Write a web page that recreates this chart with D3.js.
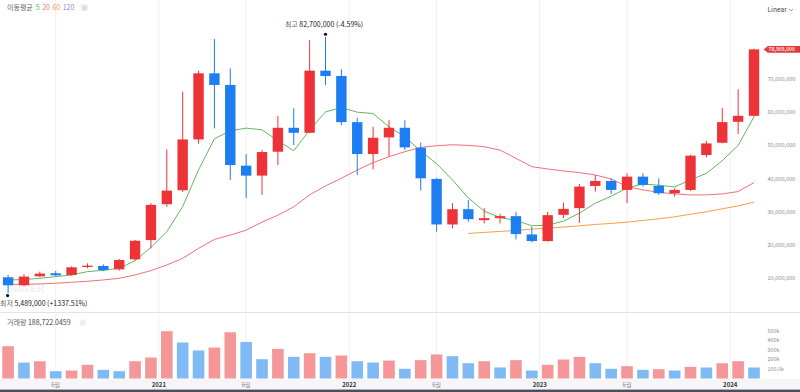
<!DOCTYPE html>
<html><head><meta charset="utf-8">
<script src="https://cdn.jsdelivr.net/npm/d3@7"></script>
<style>
html,body{margin:0;padding:0;background:#fff;}
svg{display:block;font-family:"Noto Sans CJK KR","Noto Sans",sans-serif;}
</style></head><body>
<svg id="chart" width="800" height="392"></svg>
<script>
// ---- data (prices in millions KRW, volume in thousands) ----
const months = ["2020-03","2020-04","2020-05","2020-06","2020-07","2020-08","2020-09","2020-10","2020-11","2020-12",
"2021-01","2021-02","2021-03","2021-04","2021-05","2021-06","2021-07","2021-08","2021-09","2021-10","2021-11","2021-12",
"2022-01","2022-02","2022-03","2022-04","2022-05","2022-06","2022-07","2022-08","2022-09","2022-10","2022-11","2022-12",
"2023-01","2023-02","2023-03","2023-04","2023-05","2023-06","2023-07","2023-08","2023-09","2023-10","2023-11","2023-12",
"2024-01","2024-02"];
const open = [10.3,7.9,10.6,11.5,11.0,13.4,13.7,12.7,15.7,21.5,
32.3,36.5,51.8,71.7,68.2,43.9,40.9,48.1,55.3,53.8,
72.5,70.9,57.0,47.4,52.4,55.3,49.3,39.9,26.2,30.8,
27.5,28.1,28.7,23.2,21.2,29.1,31.1,37.8,39.3,36.6,
40.6,37.8,35.6,36.6,47.1,50.8,57.1,58.9];
const high = [11.0,11.2,12.0,12.2,13.6,14.5,14.2,15.8,21.5,32.6,
48.8,66.2,72.5,82.0,73.2,47.4,48.6,58.8,61.2,81.7,
82.7,72.9,58.3,55.6,57.6,57.6,50.8,40.2,32.6,33.6,
31.1,29.4,30.0,25.6,30.0,32.8,38.4,41.1,40.0,41.6,
41.6,40.1,37.1,47.2,51.4,61.3,66.9,79.1];
const low = [5.489,7.6,10.3,10.6,10.8,13.0,12.2,12.3,15.3,19.0,
31.5,36.0,50.5,55.1,39.6,34.1,35.1,44.1,50.1,53.7,
68.2,56.1,41.1,42.8,46.6,48.6,36.4,24.0,25.0,27.0,
26.5,26.5,21.7,20.8,21.0,28.1,26.7,36.1,35.4,32.6,
37.6,35.1,34.6,36.3,46.4,50.6,53.4,58.7];
const close = [7.9,10.5,11.4,10.9,13.3,13.8,12.5,15.5,21.3,32.1,
36.4,51.8,71.7,68.2,44.1,40.9,48.0,55.3,53.8,72.5,
70.9,57.0,47.4,52.3,55.3,49.4,40.1,26.2,30.8,27.8,
28.1,28.7,23.3,21.2,29.0,30.9,37.6,39.3,36.6,40.6,
38.1,35.6,36.6,46.9,50.6,57.0,58.9,78.905];
const volumeK = [340,168,182,77,84,144,91,77,182,221,
498,379,295,326,487,385,203,312,228,266,
228,242,182,168,189,102,193,253,235,161,
182,116,193,84,144,200,228,161,102,130,
91,98,84,123,116,161,182,116];
const ma5 = [9.5,9.6,10.0,10.5,11.0,12.0,12.4,13.0,15.3,19.3,
24.0,31.6,42.6,52.0,54.4,55.2,54.7,51.4,48.4,54.6,
60.1,61.4,60.0,59.6,55.6,52.6,48.3,44.5,39.6,34.2,
30.2,28.3,27.4,25.8,26.0,27.2,29.6,32.6,34.7,37.2,
38.4,38.0,37.5,39.6,41.6,45.4,50.0,58.6];
const ma20 = [8.1,8.2,8.3,8.5,8.8,9.1,9.5,10.0,11.0,12.3,
14.0,16.0,19.0,21.7,23.0,24.5,26.9,29.0,31.5,35.1,
37.8,40.1,42.6,44.8,46.6,48.1,49.4,49.9,50.2,50.0,
49.6,48.6,46.1,43.6,42.9,42.3,41.8,41.1,39.9,37.6,
36.6,35.9,35.4,35.1,35.1,35.4,36.1,38.8];
const ma60 = [null,null,null,null,null,null,null,null,null,null,
null,null,null,null,null,null,null,null,null,null,
null,null,null,null,null,null,null,null,null,23.5,
23.8,24.1,24.4,24.8,25.1,25.4,25.8,26.2,26.5,26.9,
27.4,27.9,28.5,29.3,30.0,30.9,31.8,32.9];
const maPeriods = ["5","20","60","120"];
const priceTicks = [10,20,30,40,50,60,70];
const volumeTicks = [100,200,300,400,500];
const volumeTickLabels = ["100.0k","200k","300k","400k","500k"];
const xTickLabels = ["6월","2021","6월","2022","6월","2023","6월","2024"];
const xTickMonths = ["2020-06","2021-01","2021-06","2022-01","2022-06","2023-01","2023-06","2024-01"];
const lastVolumeText = "188,722.0459";

// ---- styles ----
const UP = "#ee3338", DOWN = "#1c7ef0";
const VUP = "#f59799", VDOWN = "#80baf4";
const maColors = ["#62b85a","#f07078","#f5a046","#a07ee0"];

const svg = d3.select("#chart");
const W = 800, H = 392;
const x = d3.scalePoint().domain(months).range([8.1, 754]);
const step = x.step();
const y = d3.scaleLinear().domain([0, 90]).range([311.5, 12.52]);
const yv = d3.scaleLinear().domain([0, 500]).range([378.5, 331]);
const fmt = d3.format(",.0f");

// bottom strip
svg.append("rect").attr("x",0).attr("y",379).attr("width",W).attr("height",11).attr("fill","#f6f6f8");
svg.append("rect").attr("x",0).attr("y",389.6).attr("width",W).attr("height",2.4).attr("fill","#4a4f5c");

// vertical gridlines
const tickPos = (m,i) => x(m) - (/^\d{4}$/.test(xTickLabels[i]) ? step/2 : 0);
svg.append("g").selectAll("line").data(xTickMonths).join("line")
  .attr("x1",(m,i)=>tickPos(m,i)).attr("x2",(m,i)=>tickPos(m,i))
  .attr("y1",0).attr("y2",378.5).attr("stroke","#f1f1f3").attr("stroke-width",1);

// panel separator
svg.append("line").attr("x1",0).attr("x2",W).attr("y1",312.5).attr("y2",312.5).attr("stroke","#e3e3e6");

// watermark
svg.append("text").attr("x",10).attr("y",292).text("NAVER")
  .attr("font-size",10).attr("font-weight",700).attr("fill","#eef1f6").attr("font-family","Arial, sans-serif");

// MA lines
const maSeries = [ma5, ma20, ma60];
maSeries.forEach((s,k)=>{
  const line = d3.line().defined(d=>d[1]!=null).x(d=>x(d[0])).y(d=>y(d[1]));
  svg.append("path").datum(months.map((m,i)=>[m,s[i]]))
    .attr("d",line).attr("fill","none").attr("stroke",maColors[k]).attr("stroke-width",1);
});

// candles
const cg = svg.append("g");
months.forEach((m,i)=>{
  const up = close[i] >= open[i];
  const col = up ? UP : DOWN;
  const cx = x(m);
  cg.append("line").attr("x1",cx).attr("x2",cx).attr("y1",y(high[i])).attr("y2",y(low[i]))
    .attr("stroke",col).attr("stroke-width",1);
  const top = y(Math.max(open[i],close[i])), bot = y(Math.min(open[i],close[i]));
  cg.append("rect").attr("x",cx-5.2).attr("width",10.4)
    .attr("y",top).attr("height",Math.max(1.2,bot-top)).attr("fill",col);
});

// volume bars
svg.append("g").selectAll("rect").data(months).join("rect")
  .attr("x",m=>x(m)-5.8).attr("width",11.6)
  .attr("y",(m,i)=>yv(volumeK[i])).attr("height",(m,i)=>yv(0)-yv(volumeK[i]))
  .attr("fill",(m,i)=> (i===0 || volumeK[i] >= volumeK[i-1]) ? VUP : VDOWN);

// price axis labels
svg.append("g").selectAll("text").data(priceTicks).join("text")
  .attr("x",767.5).attr("y",d=>y(d)).attr("dy","0.35em")
  .attr("font-size",5.6).attr("fill","#8a8a8a").text(d=>fmt(d*1e6));

// volume axis labels
svg.append("g").selectAll("text").data(volumeTicks).join("text")
  .attr("x",767.5).attr("y",d=>yv(d)).attr("dy","0.35em")
  .attr("font-size",5.4).attr("fill","#8a8a8a").text((d,i)=>volumeTickLabels[i]);

// x axis labels
svg.append("g").selectAll("text").data(xTickMonths).join("text")
  .attr("x",(m,i)=>tickPos(m,i)).attr("y",384.6).attr("dy","0.35em").attr("text-anchor","middle")
  .attr("font-size",6).attr("font-weight",(m,i)=>/^\d{4}$/.test(xTickLabels[i])?600:400)
  .attr("fill",(m,i)=>/^\d{4}$/.test(xTickLabels[i])?"#333":"#8a8a8a")
  .text((m,i)=>xTickLabels[i]);

// last price tag
const last = close.length-1;
const ty = y(close[last]);
svg.append("path").attr("d",`M763.5,${ty} L768,${ty-3.3} H800 V${ty+3.3} H768 Z`).attr("fill","#e8373c");
svg.append("text").attr("x",768.6).attr("y",ty).attr("dy","0.35em").attr("font-size",5.1)
  .attr("font-weight",500).attr("fill","#fff").text(fmt(close[last]*1e6));

// max / min annotations
const maxI = d3.maxIndex(high), minI = d3.minIndex(low);
const pct = v => (v>=0?"+":"") + v.toFixed(2) + "%";
svg.append("circle").attr("cx",x(months[maxI])).attr("cy",y(high[maxI])-2.5).attr("r",1.6).attr("fill","#111");
const tMax = svg.append("text").attr("x",x(months[maxI])-1.5).attr("y",25).attr("dy","0.35em")
  .attr("text-anchor","middle").attr("font-size",7);
tMax.append("tspan").attr("fill","#666").text("최고 ");
tMax.append("tspan").attr("fill","#222").text(fmt(high[maxI]*1e6)+" ("+pct((close[last]/high[maxI]-1)*100)+")");

svg.append("circle").attr("cx",x(months[minI])-0.5).attr("cy",y(low[minI])+2.3).attr("r",1.6).attr("fill","#111");
const tMin = svg.append("text").attr("x",0).attr("y",304).attr("dy","0.35em").attr("font-size",7);
tMin.append("tspan").attr("fill","#666").text("최저 ");
tMin.append("tspan").attr("fill","#222").text(fmt(low[minI]*1e6)+" ("+pct((close[last]/low[minI]-1)*100)+")");

// legend
const lg = svg.append("text").attr("x",7).attr("y",7.5).attr("dy","0.35em").attr("font-size",7);
lg.append("tspan").attr("fill","#666").text("이동평균");
maPeriods.forEach((p,k)=>lg.append("tspan").attr("dx",k===0?3:2.5).attr("fill",maColors[k]).text(p));
svg.append("rect").attr("x",81).attr("y",4).attr("width",7).attr("height",7).attr("rx",1.5).attr("fill","#eeeeee");
svg.append("text").attr("x",84.5).attr("y",7.6).attr("dy","0.35em").attr("text-anchor","middle")
  .attr("font-size",6).attr("fill","#aaa").text("×");

// volume label
const vl = svg.append("text").attr("x",7).attr("y",322.5).attr("dy","0.35em").attr("font-size",7);
vl.append("tspan").attr("fill","#666").text("거래량 ");
vl.append("tspan").attr("fill","#444").text(lastVolumeText);
svg.append("rect").attr("x",80).attr("y",319.5).attr("width",6).attr("height",6).attr("rx",1.5).attr("fill","#eeeeee");

// scale selector
svg.append("text").attr("x",767.5).attr("y",10).attr("dy","0.35em").attr("font-size",6.6).attr("fill","#444").text("Linear");
svg.append("path").attr("d","M789,9 L791,11 L793,9").attr("fill","none").attr("stroke","#888").attr("stroke-width",0.8);
</script>
</body></html>
